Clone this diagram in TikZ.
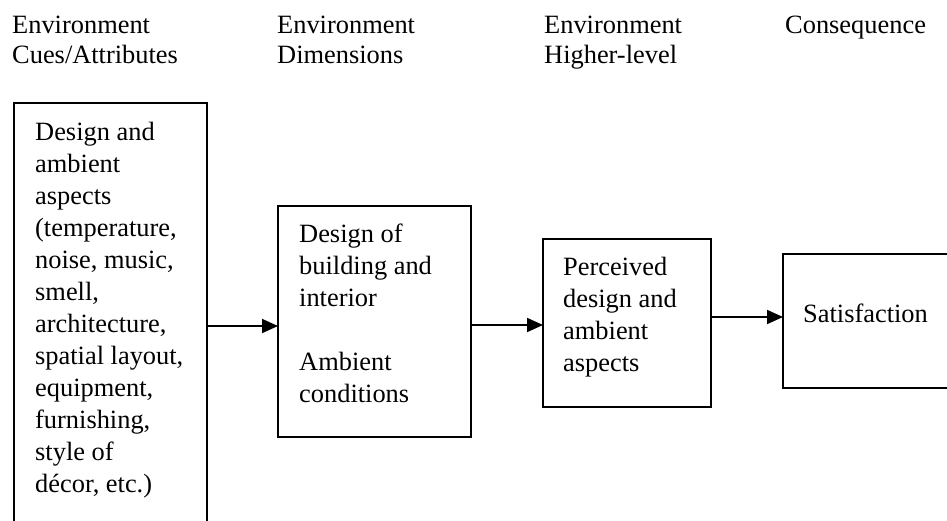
\documentclass[tikz,border=0pt]{standalone}
\usepackage{fontspec}
\setmainfont{Liberation Serif}
\usetikzlibrary{arrows.meta}

% stacked lines of text whose first baseline sits on the node's base anchor
\newcommand{\stackedlines}[2]{{\fontsize{26.4}{#1}\selectfont\begin{tabular}[t]{@{}l@{}}#2\end{tabular}}}

\tikzset{
  frame/.style={draw, line width=1.8pt, inner sep=0pt, outer sep=0pt, anchor=north west},
  txt/.style={inner sep=0pt, anchor=base west, font=\fontsize{26.4}{32}\selectfont},
  arr/.style={line width=1.8pt, -{Triangle[length=16pt,width=14pt]}},
}

\begin{document}
\begin{tikzpicture}[x=1pt, y=1pt]
\clip (0,0) rectangle (947,-520);
\fill[white] (0,0) rectangle (947,-520);

% column headings
\node[txt] (h1) at (12,-33)  {\stackedlines{30}{Environment\\Cues/Attributes}};
\node[txt] (h2) at (277,-33) {\stackedlines{30}{Environment\\Dimensions}};
\node[txt] (h3) at (544,-33) {\stackedlines{30}{Environment\\Higher-level}};
\node[txt] (h4) at (785,-33) {Consequence};

% boxes
\node[frame, minimum width=193pt, minimum height=440pt] (b1) at (14,-103) {};
\node[frame, minimum width=193pt, minimum height=231pt] (b2) at (278,-206) {};
\node[frame, minimum width=168pt, minimum height=168pt] (b3) at (543,-239) {};
\node[frame, minimum width=180pt, minimum height=134pt] (b4) at (783,-254) {};

% box contents
\node[txt] (t1) at (35,-140) {\stackedlines{32}{Design and\\ambient\\aspects\\(temperature,\\noise, music,\\smell,\\architecture,\\spatial layout,\\equipment,\\furnishing,\\style of\\décor, etc.)}};
\node[txt] (t2) at (299,-242) {\stackedlines{32}{Design of\\building and\\interior\\[32pt]Ambient\\conditions}};
\node[txt] (t3) at (563,-275) {\stackedlines{32}{Perceived\\design and\\ambient\\aspects}};
\node[txt] (t4) at (803,-322) {Satisfaction};

% connectors
\draw[arr] (b1.east |- 0,-326) -- (b2.west |- 0,-326);
\draw[arr] (b2.east |- 0,-325) -- (b3.west |- 0,-325);
\draw[arr] (b3.east |- 0,-317) -- (b4.west |- 0,-317);
\end{tikzpicture}
\end{document}
